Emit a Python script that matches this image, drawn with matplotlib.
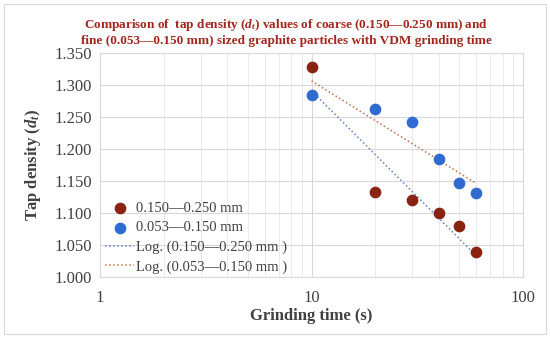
import numpy as np
import matplotlib
matplotlib.use("Agg")
import matplotlib.pyplot as plt
from matplotlib.patches import Rectangle

plt.rcParams['font.family'] = ['Liberation Serif', 'DejaVu Serif']
plt.rcParams['mathtext.fontset'] = 'custom'
plt.rcParams['mathtext.rm'] = 'Liberation Serif'
plt.rcParams['mathtext.it'] = 'Liberation Serif:italic'
plt.rcParams['mathtext.bf'] = 'Liberation Serif:bold'
plt.rcParams['mathtext.bfit'] = 'Liberation Serif:italic:bold'

# grinding time (s)
times = [10, 20, 30, 40, 50, 60]
coarse = [1.328, 1.133, 1.120, 1.100, 1.080, 1.040]   # 0.150-0.250 mm
fine = [1.284, 1.262, 1.242, 1.184, 1.147, 1.132]     # 0.053-0.150 mm

y_ticks = [1.000, 1.050, 1.100, 1.150, 1.200, 1.250, 1.300, 1.350]

c_coarse = '#8B2312'
c_fine = '#2F6BD1'
c_log_coarse = '#5B7FD0'
c_log_fine = '#C0704A'
title_col = '#A3261C'
txt = '#404040'

fig = plt.figure(figsize=(5.5, 3.38), dpi=100)
ax = fig.add_axes([0.182, 0.180, 0.769, 0.663])

x = np.array(times, dtype=float)
ax.scatter(x, coarse, s=55, color=c_coarse, zorder=4, label='0.150\u20140.250 mm')
ax.scatter(x, fine, s=55, color=c_fine, zorder=4, label='0.053\u20140.150 mm')

# logarithmic trendlines like Excel: y = a ln(x) + b
for vals, col, lab in [(coarse, c_log_coarse, 'Log. (0.150\u20140.250 mm )'),
                       (fine, c_log_fine, 'Log. (0.053\u20140.150 mm )')]:
    a, b = np.polyfit(np.log(x), vals, 1)
    xx = np.linspace(x.min(), x.max(), 50)
    ax.plot(xx, a * np.log(xx) + b, ls=':', lw=1.1, color=col, label=lab, zorder=3)

ax.set_xscale('log')
ax.set_xlim(1, 100)
ax.set_ylim(1.0, 1.35)
ax.set_yticks(y_ticks)
ax.set_yticklabels([f'{v:.3f}' for v in y_ticks])
ax.set_xticks([1, 10, 100])
ax.set_xticklabels(['1', '10', '100'])

ax.grid(True, which='major', color='#d9d9d9', lw=0.8)
ax.grid(True, which='minor', axis='x', color='#e6e6e6', lw=0.6)
ax.set_axisbelow(True)
for s in ax.spines.values():
    s.set_color('#d9d9d9')
    s.set_linewidth(0.8)
ax.tick_params(which='both', length=0, labelsize=12, colors=txt, pad=6)
ax.tick_params(axis='x', pad=9)

ax.set_xlabel('Grinding time (s)', fontsize=12, fontweight='bold', color=txt, labelpad=2)
ax.set_ylabel(r'Tap density ($\mathbfit{d_t}$)', fontsize=12, fontweight='bold', color=txt, labelpad=8)

leg = ax.legend(loc='lower left', frameon=False, fontsize=10.5, handlelength=2.0,
                handletextpad=0.1, labelspacing=0.42, borderaxespad=0.3,
                bbox_to_anchor=(-0.012, -0.03))
for t in leg.get_texts():
    t.set_color(txt)

fig.text(0.52, 0.905,
         'Comparison of  tap density ($\\mathbfit{d_t}$) values of coarse (0.150\u20140.250 mm) and\n'
         'fine (0.053\u20140.150 mm) sized graphite particles with VDM grinding time',
         ha='center', va='center', fontsize=9.5, fontweight='bold', color=title_col,
         linespacing=1.25)

fig.patches.append(Rectangle((0.008, 0.012), 0.984, 0.976, transform=fig.transFigure,
                             fill=False, edgecolor='#d9d9d9', lw=0.8))

fig.savefig('out.png', dpi=100)
